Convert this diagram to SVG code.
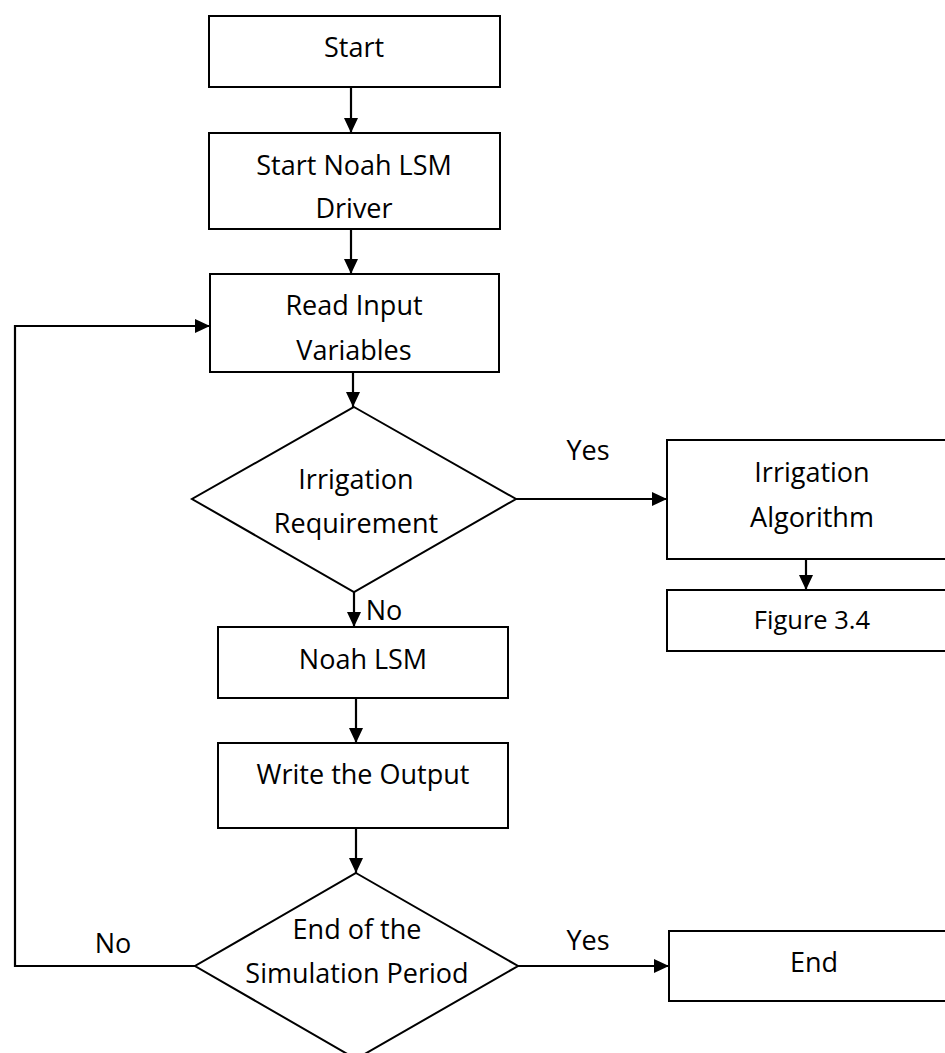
<svg xmlns="http://www.w3.org/2000/svg" width="945" height="1053" viewBox="0 0 945 1053">
<style>
.box{fill:#fff;stroke:#000;stroke-width:2}
.t{font-family:"Open Sans","Liberation Sans",sans-serif;font-size:27px;fill:#000;text-anchor:middle}
.s{font-size:25.5px}
.c{fill:none;stroke:#000;stroke-width:2.2}
</style>
<defs>
<marker id="ah" markerUnits="userSpaceOnUse" markerWidth="16" markerHeight="16" refX="15" refY="8" orient="auto">
<path d="M0,1 L15,8 L0,15 Z" fill="#000"/>
</marker>
</defs>
<rect width="945" height="1053" fill="#fff"/>
<g id="connectors">
<line class="c" x1="351" y1="87" x2="351" y2="133" marker-end="url(#ah)"/>
<line class="c" x1="351" y1="229" x2="351" y2="274" marker-end="url(#ah)"/>
<line class="c" x1="353" y1="372" x2="353" y2="407" marker-end="url(#ah)"/>
<line class="c" x1="354" y1="592" x2="354" y2="627" marker-end="url(#ah)"/>
<line class="c" x1="356" y1="698" x2="356" y2="743" marker-end="url(#ah)"/>
<line class="c" x1="356" y1="828" x2="356" y2="873" marker-end="url(#ah)"/>
<line class="c" x1="516" y1="499" x2="667" y2="499" marker-end="url(#ah)"/>
<line class="c" x1="806" y1="559" x2="806" y2="590" marker-end="url(#ah)"/>
<line class="c" x1="518" y1="966" x2="669" y2="966" marker-end="url(#ah)"/>
<polyline class="c" points="195,966 15,966 15,326 210,326" marker-end="url(#ah)"/>
<text class="t" x="588" y="460">Yes</text>
<text class="t" x="384" y="620">No</text>
<text class="t" x="588" y="950">Yes</text>
<text class="t" x="113" y="953">No</text>
</g>
<g id="start">
<rect class="box" x="209" y="16" width="291" height="71"/>
<text class="t" x="354" y="57">Start</text>
</g>
<g id="driver">
<rect class="box" x="209" y="133" width="291" height="96"/>
<text class="t" x="354" y="175">Start Noah LSM</text>
<text class="t" x="354" y="218">Driver</text>
</g>
<g id="read">
<rect class="box" x="210" y="274" width="289" height="98"/>
<text class="t" x="354" y="315">Read Input</text>
<text class="t" x="354" y="360">Variables</text>
</g>
<g id="irrig-req">
<polygon class="box" points="354,407 516,499 354,592 192,499"/>
<text class="t" x="356" y="489">Irrigation</text>
<text class="t" x="356" y="533">Requirement</text>
</g>
<g id="irrig-alg">
<rect class="box" x="667" y="440" width="290" height="119"/>
<text class="t" x="812" y="482">Irrigation</text>
<text class="t" x="812" y="527">Algorithm</text>
</g>
<g id="fig34">
<rect class="box" x="667" y="590" width="290" height="61"/>
<text class="t s" x="812" y="629">Figure 3.4</text>
</g>
<g id="noah">
<rect class="box" x="218" y="627" width="290" height="71"/>
<text class="t" x="363" y="669">Noah LSM</text>
</g>
<g id="write">
<rect class="box" x="218" y="743" width="290" height="85"/>
<text class="t" x="363" y="784">Write the Output</text>
</g>
<g id="end-sim">
<polygon class="box" points="356,873 518,966 356,1059 195,966"/>
<text class="t" x="357" y="939">End of the</text>
<text class="t" x="357" y="983">Simulation Period</text>
</g>
<g id="end">
<rect class="box" x="669" y="931" width="290" height="70"/>
<text class="t" x="814" y="972">End</text>
</g>
</svg>
